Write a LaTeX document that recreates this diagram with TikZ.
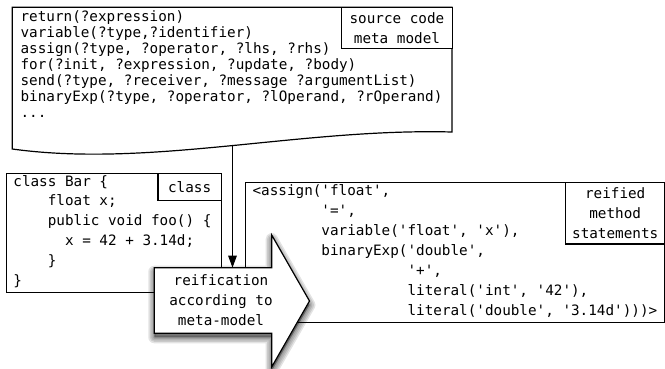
\documentclass[tikz,border=0pt]{standalone}
\usepackage{fontspec}
\setmonofont{DejaVu Sans Mono}
\usetikzlibrary{arrows.meta}
\begin{document}
\begin{tikzpicture}[x=1pt,y=-1pt,line width=1.2pt,
  code/.style={font=\ttfamily\fontsize{14.3}{16}\selectfont, inner sep=0pt, anchor=base west},
  lbl/.style={font=\ttfamily\fontsize{14.3}{20}\selectfont, inner sep=0pt, align=center},
  box/.style={draw, fill=white, inner sep=0pt, anchor=north west},
  conn/.style={-{Triangle[width=8.5pt,length=12pt]}}]
\useasboundingbox (0,0) rectangle (665,369);
% source code meta model document
\draw[fill=white] (12.3,7.3) -- (452,7.3) -- (452,132) .. controls (300,128) and (150,168) .. (12.3,149) -- cycle;
\coordinate (docbot) at (232.5,146.5);
\node[box, lbl, minimum width=111.3pt, minimum height=41pt] (dlbl) at (340.7,7.3) {source code\\meta model};
\node[code] (m1) at (20,21.2) {return(?expression)};
\node[code] (m2) at (20,37.25) {variable(?type,?identifier)};
\node[code] (m3) at (20,53.3) {assign(?type, ?operator, ?lhs, ?rhs)};
\node[code] (m4) at (20,69.35) {for(?init, ?expression, ?update, ?body)};
\node[code] (m5) at (20,85.4) {send(?type, ?receiver, ?message ?argumentList)};
\node[code] (m6) at (20,101.45) {binaryExp(?type, ?operator, ?lOperand, ?rOperand)};
\node[code] (m7) at (20,117.5) {...};
% class
\node[box, minimum width=215pt, minimum height=119pt] (cls) at (5.7,172.7) {};
\node[box, lbl, minimum width=63.4pt, minimum height=27.3pt] (clbl) at (157.3,172.7) {class};
\node[code] (c1) at (12.8,186) {class Bar \{};
\node[code] (c2) at (12.8,205.8) {\phantom{xxxx}float x;};
\node[code] (c3) at (12.8,225.6) {\phantom{xxxx}public void foo() \{};
\node[code] (c4) at (12.8,245.4) {\phantom{xxxxxx}x = 42 + 3.14d;};
\node[code] (c5) at (12.8,265.2) {\phantom{xxxx}\}};
\node[code] (c6) at (12.8,285) {\}};
% reified method statements
\node[box, minimum width=419pt, minimum height=140pt] (ref) at (245.2,181.7) {};
\node[box, lbl, minimum width=99.2pt, minimum height=61.6pt] (rlbl) at (565,181.7) {reified\\method\\statements};
\node[code] (r1) at (252,195.2) {<assign('float',};
\node[code] (r2) at (252,215.2) {\phantom{xxxxxxxx}'=',};
\node[code] (r3) at (252,235.2) {\phantom{xxxxxxxx}variable('float', 'x'),};
\node[code] (r4) at (252,255.2) {\phantom{xxxxxxxx}binaryExp('double',};
\node[code] (r5) at (252,275.2) {\phantom{xxxxxxxxxxxxxxxxxx}'+',};
\node[code] (r6) at (252,295.2) {\phantom{xxxxxxxxxxxxxxxxxx}literal('int', '42'),};
\node[code] (r7) at (252,315.2) {\phantom{xxxxxxxxxxxxxxxxxx}literal('double', '3.14d')))>};
% reification arrow
\coordinate (rtop) at (232.5,267.7);
\draw[conn] (docbot) -- (rtop);
\begin{scope}[shift={(0,4)}]
  \foreach \w in {12,9,6,3}
    \draw[black, opacity=0.11, fill opacity=0.11, fill=black, line width=\w pt, line join=round]
      (154.3,267.7) -- (271.7,267.7) -- (271.7,235) -- (309.5,301) -- (271.7,367) -- (271.7,333.3) -- (154.3,333.3) -- cycle;
\end{scope}
\draw[fill=white]
  (154.3,267.7) -- (271.7,267.7) -- (271.7,235) -- (309.5,301) -- (271.7,367) -- (271.7,333.3) -- (154.3,333.3) -- cycle;
\node[lbl] (reif) at (221,300.5) {reification\\according to\\meta-model};
\end{tikzpicture}
\end{document}
